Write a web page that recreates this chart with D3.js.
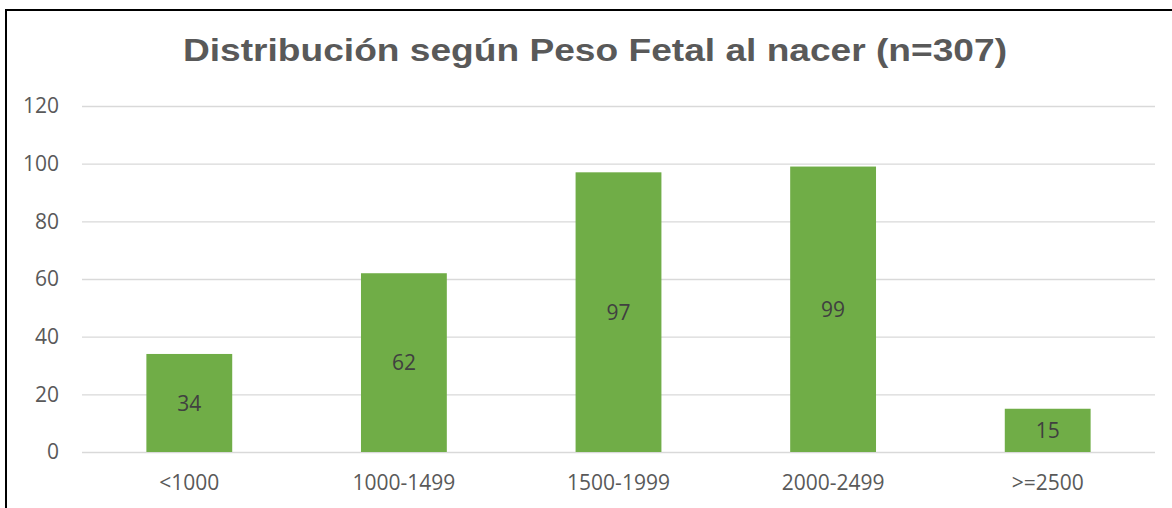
<!DOCTYPE html>
<html><head><meta charset="utf-8">
<script src="https://cdn.jsdelivr.net/npm/d3@7"></script>
<style>body{margin:0;background:#fff}</style>
</head><body>
<svg id="c" width="1172" height="508"></svg>
<script>
const categories = ["<1000", "1000-1499", "1500-1999", "2000-2499", ">=2500"];
const values = [34, 62, 97, 99, 15];
const yTicks = [0, 20, 40, 60, 80, 100, 120];
const title = "Distribución según Peso Fetal al nacer (n=307)";

const svg = d3.select("#c");
const W = 1172, H = 508;
const m = {left: 82, right: 17, top: 106, bottom: 56};

svg.append("rect").attr("x", 6).attr("y", 10).attr("width", W + 10).attr("height", H + 10)
  .attr("fill", "#fff").attr("stroke", "#000").attr("stroke-width", 2);

const x = d3.scaleBand().domain(categories).range([m.left, W - m.right]).paddingInner(0.6).paddingOuter(0.3);
const y = d3.scaleLinear().domain([0, 120]).range([H - m.bottom, m.top]);

const ya = svg.append("g").attr("transform", `translate(${m.left},0)`)
  .call(d3.axisLeft(y).tickValues(yTicks).tickSize(-(W - m.right - m.left)).tickPadding(23));
ya.select(".domain").remove();
ya.selectAll("line").attr("stroke", "#d9d9d9").attr("stroke-width", 1.3);
ya.selectAll("text").attr("fill", "#595959").style("font-family", "'Open Sans'").style("font-size", "21px");

const xa = svg.append("g").attr("transform", `translate(0,${H - m.bottom})`)
  .call(d3.axisBottom(x).tickSize(0).tickPadding(23));
xa.select(".domain").remove();
xa.selectAll("text").attr("fill", "#595959").style("font-family", "'Open Sans'").style("font-size", "21px");

svg.append("g").selectAll("rect").data(values).join("rect")
  .attr("x", (d, i) => x(categories[i]))
  .attr("width", x.bandwidth())
  .attr("y", d => y(d))
  .attr("height", d => y(0) - y(d))
  .attr("fill", "#70ad47");

svg.append("g").selectAll("text").data(values).join("text")
  .attr("x", (d, i) => x(categories[i]) + x.bandwidth() / 2)
  .attr("y", d => (y(d) + y(0)) / 2)
  .attr("dy", "0.36em")
  .attr("text-anchor", "middle")
  .attr("fill", "#404040")
  .style("font-family", "'Open Sans'").style("font-size", "21px")
  .text(d => d);

svg.append("text").attr("x", 595).attr("y", 61).attr("text-anchor", "middle")
  .attr("textLength", 824).attr("lengthAdjust", "spacingAndGlyphs")
  .attr("fill", "#595959").style("font-family", "'Liberation Sans', Arial, sans-serif")
  .style("font-weight", "bold").style("font-size", "32px").text(title);
</script>
</body></html>
